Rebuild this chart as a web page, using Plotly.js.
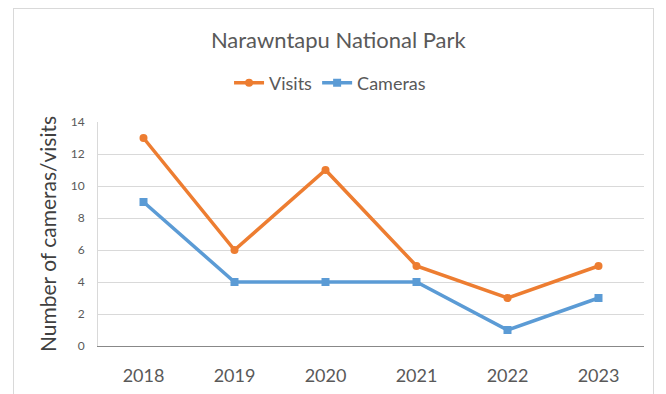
<!DOCTYPE html>
<html><head><meta charset="utf-8">
<script src="https://cdn.plot.ly/plotly-3.0.1.min.js"></script>
<style>
html,body{margin:0;padding:0;background:#fff;}
#frame{position:absolute;left:13px;top:8px;width:641px;height:400px;border:1px solid #d9d9d9;box-sizing:border-box;}
#chart{position:absolute;left:0;top:0;width:666px;height:394px;}
</style></head>
<body>
<div id="frame"></div>
<div id="chart"></div>
<script>
const years = ['2018','2019','2020','2021','2022','2023'];
const visits = [13, 6, 11, 5, 3, 5];
const cameras = [9, 4, 4, 4, 1, 3];
const yTicks = [0,2,4,6,8,10,12,14];

const traces = [
  {x: years, y: visits, name: 'Visits', type: 'scatter', mode: 'lines+markers',
   line: {color: '#ED7D31', width: 3.5}, marker: {symbol: 'circle', size: 8, color: '#ED7D31'}},
  {x: years, y: cameras, name: 'Cameras', type: 'scatter', mode: 'lines+markers',
   line: {color: '#5B9BD5', width: 3.5}, marker: {symbol: 'square', size: 8, color: '#5B9BD5'}}
];
const layout = {
  width: 666, height: 394,
  paper_bgcolor: 'rgba(0,0,0,0)', plot_bgcolor: 'rgba(0,0,0,0)',
  margin: {l: 98, r: 22, t: 122, b: 48},
  font: {family: 'Lato, "Noto Sans", sans-serif', color: '#595959'},
  title: {text: 'Narawntapu National Park', font: {size: 22, color: '#595959'},
          x: 0.508, xref: 'container', xanchor: 'center', y: 0.898, yref: 'container', yanchor: 'middle'},
  showlegend: true,
  legend: {orientation: 'h', x: 0.425, xanchor: 'center', y: 1.174, yanchor: 'middle',
           font: {size: 18, color: '#595959'}, itemwidth: 30, tracegroupgap: 0},
  xaxis: {type: 'category', range: [-0.5, 5.5], showgrid: false, showline: true, linecolor: '#888', linewidth: 1,
          ticks: '', tickfont: {size: 18, color: '#595959'}, ticklabelstandoff: 13, zeroline: false},
  yaxis: {range: [0, 14], tickvals: yTicks, showgrid: true, gridcolor: '#d9d9d9', gridwidth: 1,
          showline: true, linecolor: '#d9d9d9', ticks: '', zeroline: false,
          tickfont: {size: 12, color: '#595959'}, ticklabelstandoff: 10,
          title: {text: 'Number of cameras/visits', font: {size: 21, color: '#404040'}, standoff: 8}}
};
Plotly.newPlot('chart', traces, layout, {displayModeBar: false, staticPlot: true});
</script>
</body></html>
